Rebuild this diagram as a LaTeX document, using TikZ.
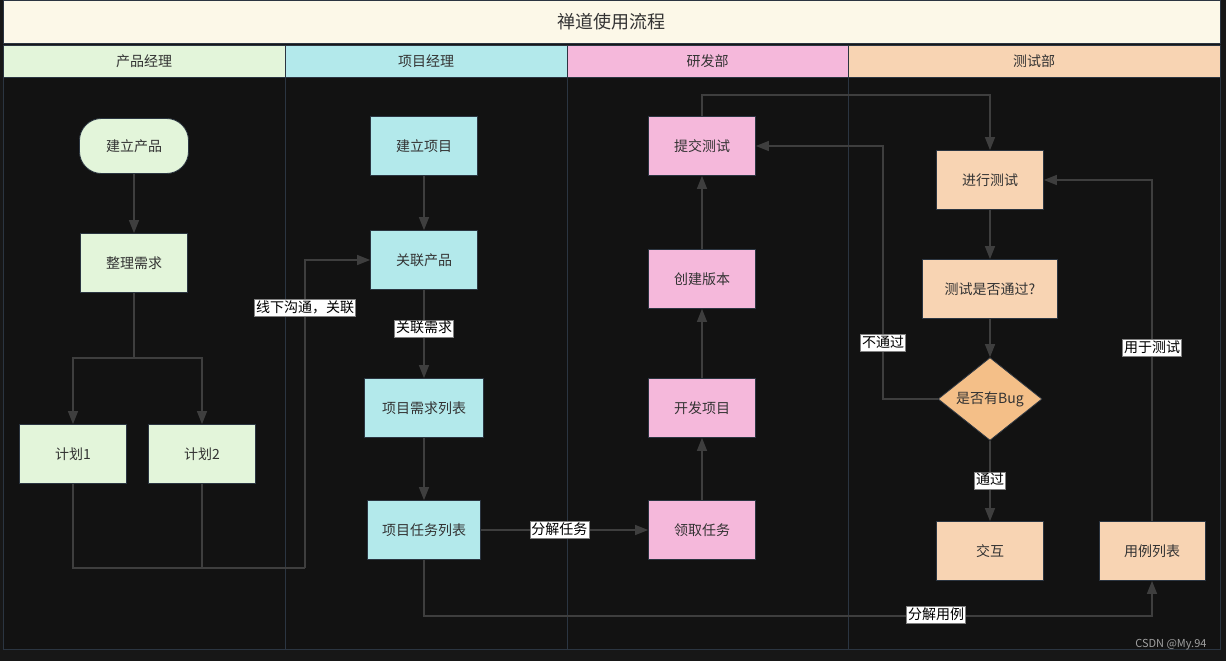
\documentclass[tikz,border=0pt]{standalone}
\usepackage{fontspec}
\setmainfont{Noto Sans CJK SC}
\usetikzlibrary{positioning,arrows.meta,shapes.geometric}

\definecolor{bgout}{HTML}{171717}
\definecolor{bgpool}{HTML}{121212}
\definecolor{laneline}{HTML}{2B3541}
\definecolor{titlefill}{HTML}{FCF8E8}
\definecolor{pmfill}{HTML}{E3F5DA}
\definecolor{xmfill}{HTML}{B3E9EB}
\definecolor{yffill}{HTML}{F5B8DB}
\definecolor{csfill}{HTML}{F8D4B3}
\definecolor{bugfill}{HTML}{F4BF88}
\definecolor{lineclr}{HTML}{3E3E3E}
\definecolor{txtclr}{HTML}{333333}

\tikzset{
  box/.style={draw=laneline, line width=0.8pt, minimum width=107pt, minimum height=59pt,
    text=txtclr, font=\fontsize{14}{16}\selectfont, inner sep=2pt},
  pmbox/.style={box, fill=pmfill},
  xmbox/.style={box, fill=xmfill},
  yfbox/.style={box, fill=yffill},
  csbox/.style={box, fill=csfill},
  lanehead/.style={draw=laneline, line width=0.8pt, minimum height=32pt, text=txtclr,
    font=\fontsize{14}{16}\selectfont, inner sep=0pt},
  lanebody/.style={draw=laneline, line width=1pt, fill=bgpool},
  link/.style={draw=lineclr, line width=1.3pt},
  flow/.style={link, -{Triangle[length=13pt,width=10pt]}},
  lbl/.style={fill=white, draw=gray, line width=0.5pt, text=black, inner sep=1.5pt,
    text height=11pt, text depth=3pt, font=\fontsize{14}{16}\selectfont}
}

\begin{document}
\begin{tikzpicture}[x=1pt,y=-1pt]
\useasboundingbox (0,0) rectangle (1226,661);
\fill[bgout] (0,0) rectangle (1226,661);

% lanes
\draw[lanebody] (3,77) rectangle (285,649);
\draw[lanebody] (285,77) rectangle (567,649);
\draw[lanebody] (567,77) rectangle (848,649);
\draw[lanebody] (848,77) rectangle (1220,649);
\node[lanehead, fill=titlefill, minimum width=1217pt, minimum height=43pt,
  font=\fontsize{18}{20}\selectfont] (title) at (611.5,22) {禅道使用流程};
\node[lanehead, fill=pmfill, minimum width=282pt] (hpm) at (144,61) {产品经理};
\node[lanehead, fill=xmfill, minimum width=282pt] (hxm) at (426,61) {项目经理};
\node[lanehead, fill=yffill, minimum width=281pt] (hyf) at (707.5,61) {研发部};
\node[lanehead, fill=csfill, minimum width=372pt] (hcs) at (1034,61) {测试部};

% 产品经理
\node[pmbox, rounded corners=22pt, minimum width=109pt, minimum height=55pt] (jlcp) at (134,146) {建立产品};
\node[pmbox] (zlxq) at (134,263) {整理需求};
\node[pmbox] (jh1) at (73,454) {计划1};
\node[pmbox] (jh2) at (202,454) {计划2};

% 项目经理
\node[xmbox] (jlxm) at (424,146) {建立项目};
\node[xmbox] (glcp) at (424,260) {关联产品};
\node[xmbox, minimum width=119pt] (xmxq) at (424,408) {项目需求列表};
\node[xmbox, minimum width=113pt] (xmrw) at (424,530) {项目任务列表};

% 研发部
\node[yfbox] (tjcs) at (702,146) {提交测试};
\node[yfbox] (cjbb) at (702,279) {创建版本};
\node[yfbox] (kfxm) at (702,408) {开发项目};
\node[yfbox] (lqrw) at (702,530) {领取任务};

% 测试部
\node[csbox] (jxcs) at (990,180) {进行测试};
\node[csbox, minimum width=135pt] (sftg) at (990,289) {测试是否通过?};
\node[diamond, draw=laneline, line width=0.8pt, fill=bugfill, text=txtclr, inner sep=0pt,
  minimum width=104pt, minimum height=76pt, font=\fontsize{14}{16}\selectfont] (bug) at (990,399) {是否有Bug};
\node[csbox] (jh) at (990,551) {交互};
\node[csbox, minimum width=106pt] (ylb) at (1152,551) {用例列表};

\coordinate (fork) at (134,358);
\coordinate (join) at (305,568);
\coordinate (nopass) at (883,146);

% Connect nodes
\draw[flow] (jlcp) -- (zlxq);
\draw[link] (zlxq) -- (fork);
\draw[flow] (fork) -| (jh1);
\draw[flow] (fork) -| (jh2);
\draw[link] (jh1) |- (join);
\draw[link] (jh2) -- (jh2 |- join);
\draw[flow] (join) |- (glcp);
\draw[flow] (jlxm) -- (glcp);
\draw[flow] (glcp) -- node[lbl, pos=0.44] (lbglxq) {关联需求} (xmxq);
\draw[flow] (xmxq) -- (xmrw);
\draw[flow] (xmrw) -- node[lbl, pos=0.47] (lbfjrw) {分解任务} (lqrw);
\draw[flow] (xmrw.south) -- ++(0,56) -| (ylb);
\draw[flow] (lqrw) -- (kfxm);
\draw[flow] (kfxm) -- (cjbb);
\draw[flow] (cjbb) -- (tjcs);
\draw[flow] (tjcs.north) -- ++(0,-21) -| (jxcs);
\draw[flow] (jxcs) -- (sftg);
\draw[flow] (sftg) -- (bug);
\draw[flow] (bug) -- node[lbl, pos=0.5] (lbtg) {通过} (jh);
\draw[flow] (bug.west) -| (nopass) -- (tjcs.east);
\draw[flow] (ylb) |- (jxcs);

% labels on bent lines
\node[lbl] (lbxxgt) at (305,308) {线下沟通，关联};
\node[lbl] (lbfjyl) at (936,615) {分解用例};
\node[lbl] (lbbtg) at (883,343) {不通过};
\node[lbl] (lbylcs) at (1152,348) {用于测试};

\node[anchor=east, text=gray!75, font=\fontsize{11}{13}\selectfont] (wm) at (1210,645) {CSDN @My.94};
\end{tikzpicture}
\end{document}
